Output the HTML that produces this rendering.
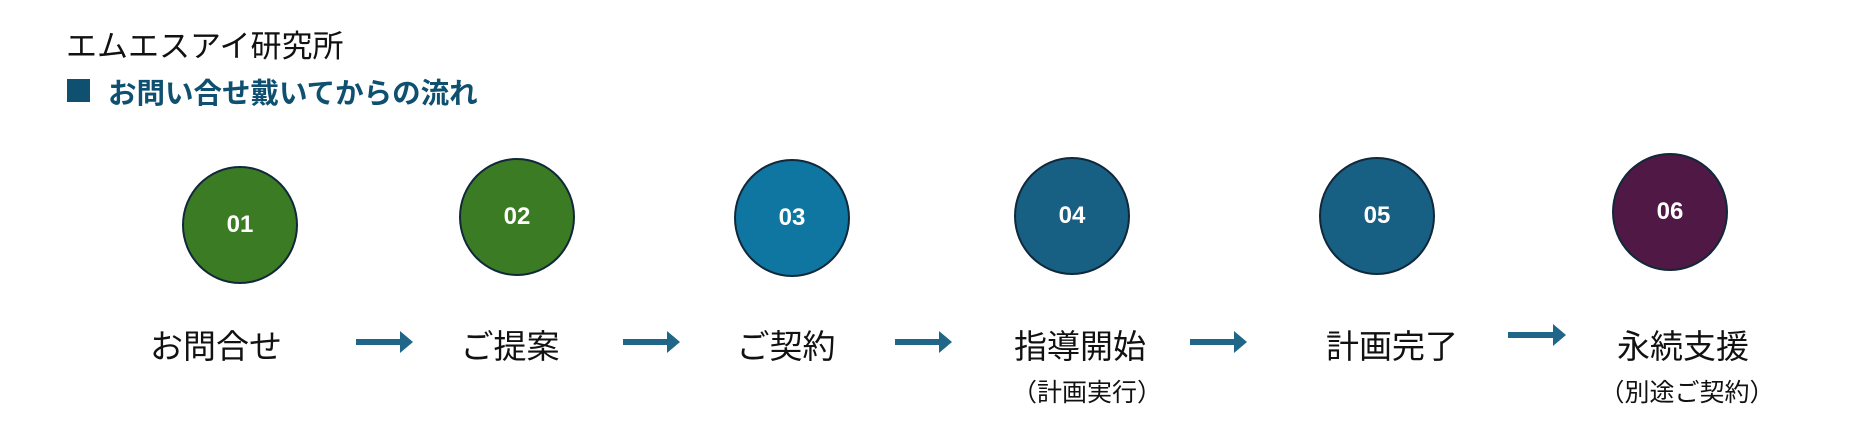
<!DOCTYPE html>
<html><head><meta charset="utf-8"><style>
body{margin:0;width:1853px;height:447px;background:#fff;position:relative;overflow:hidden;font-family:"Liberation Sans","Noto Sans CJK JP",sans-serif;}
.a{position:absolute;white-space:nowrap;}
.c{position:absolute;width:116px;height:118px;border-radius:50%;border:2px solid #10283a;box-sizing:border-box;color:#fff;font-weight:bold;font-size:24px;display:flex;align-items:center;justify-content:center;font-family:"Liberation Sans",sans-serif;}
.l{position:absolute;font-size:33px;color:#111;transform:translateX(-50%);white-space:nowrap;top:320px;}
.s{position:absolute;font-size:25px;color:#111;transform:translateX(-50%);white-space:nowrap;top:373px;}
svg{position:absolute;left:0;top:0;}
</style></head><body>
<div class="a" style="left:66px;top:21px;font-size:31px;color:#111;">エムエスアイ研究所</div>
<div class="a" style="left:67px;top:79px;width:23px;height:23px;background:#0f5070;"></div>
<div class="a" style="left:108px;top:71px;font-size:28.5px;color:#0f5070;font-weight:bold;">お問い合せ戴いてからの流れ</div>

<div class="c" style="left:182px;top:166px;background:#3b7b23;">01</div>
<div class="c" style="left:459px;top:158px;background:#3b7b23;">02</div>
<div class="c" style="left:734px;top:159px;background:#0e76a0;">03</div>
<div class="c" style="left:1014px;top:157px;background:#175f83;">04</div>
<div class="c" style="left:1319px;top:157px;background:#175f83;">05</div>
<div class="c" style="left:1612px;top:153px;background:#501844;">06</div>

<div class="l" style="left:216px;">お問合せ</div>
<div class="l" style="left:510px;">ご提案</div>
<div class="l" style="left:786px;">ご契約</div>
<div class="l" style="left:1080px;">指導開始</div>
<div class="s" style="left:1087px;">（計画実行）</div>
<div class="l" style="left:1392px;">計画完了</div>
<div class="l" style="left:1683px;">永続支援</div>
<div class="s" style="left:1687px;">（別途ご契約）</div>

<svg width="1853" height="447">
<g fill="#1f6688">
<path d="M356 339h44v-8l13 11l-13 11v-8h-44z"/>
<path d="M623 339h44v-8l13 11l-13 11v-8h-44z"/>
<path d="M895 339h44v-8l13 11l-13 11v-8h-44z"/>
<path d="M1190 339h44v-8l13 11l-13 11v-8h-44z"/>
<path d="M1508 332h45v-8l13 11l-13 11v-8h-45z"/>
</g>
</svg>
</body></html>
